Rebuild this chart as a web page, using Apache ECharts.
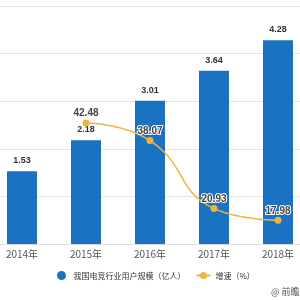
<!DOCTYPE html>
<html><head><meta charset="utf-8">
<script src="https://cdn.jsdelivr.net/npm/echarts@6/dist/echarts.min.js"></script>
<style>html,body{margin:0;padding:0;background:#fff}#c{width:300px;height:300px}</style>
</head><body><div id="c"></div>
<script>
var categories = ['2014年','2015年','2016年','2017年','2018年'];
var users = [1.53, 2.18, 3.01, 3.64, 4.28];
var growth = [null, 42.48, 38.07, 20.93, 17.98];
var seriesNames = ['我国电竞行业用户规模（亿人）', '增速（%）'];
var sourceText = '@ 前瞻经济学人';

var chart = echarts.init(document.getElementById('c'));
chart.setOption({
  animation: false,
  grid: { left: -10, right: -10, top: 6, bottom: 56, containLabel: false, outerBoundsMode: 'none' },
  legend: {
    bottom: 15, left: 52, itemGap: 10, itemWidth: 14, itemHeight: 9,
    textStyle: { fontSize: 8, color: '#333', fontFamily: 'Noto Sans CJK SC' },
    data: [
      { name: seriesNames[0], icon: 'circle' },
      { name: seriesNames[1] }
    ]
  },
  graphic: [
    { type: 'text', left: 271, top: 287, style: { text: sourceText, fontSize: 9, fill: '#555', fontFamily: 'Noto Sans CJK SC' } }
  ],
  xAxis: {
    type: 'category', data: categories,
    axisLine: { lineStyle: { color: '#ddd' } },
    axisTick: { show: false },
    axisLabel: { color: '#555', fontSize: 10, margin: 5, fontFamily: 'Noto Sans CJK SC' }
  },
  yAxis: [
    { type: 'value', min: 0, max: 5, interval: 1, axisLabel: { show: false },
      axisLine: { show: false }, axisTick: { show: false },
      splitLine: { lineStyle: { color: '#e4e4e4' } } },
    { type: 'value', min: 12, max: 72, interval: 12, axisLabel: { show: false },
      axisLine: { show: false }, axisTick: { show: false }, splitLine: { show: false } }
  ],
  series: [
    { name: seriesNames[0], type: 'bar', data: users, barWidth: 30,
      itemStyle: { color: '#1a72c3' },
      label: { show: true, position: 'top', distance: 6, color: '#333', fontSize: 9, fontWeight: 'bold' } },
    { name: seriesNames[1], type: 'line', yAxisIndex: 1, data: growth, smooth: true,
      symbol: 'circle', symbolSize: 7,
      itemStyle: { color: '#eab540' }, lineStyle: { color: '#eab540', width: 1.5 },
      label: { show: true, position: 'top', distance: 1, color: '#444', fontSize: 10, fontWeight: 'bold',
        textBorderColor: '#fff', textBorderWidth: 2 } }
  ]
});
</script></body></html>
